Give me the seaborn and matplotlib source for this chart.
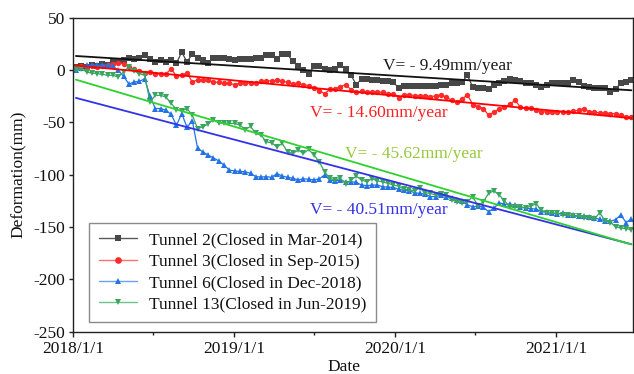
import numpy as np
import pandas as pd
import matplotlib
matplotlib.use("Agg")
import matplotlib.pyplot as plt
import matplotlib.dates as mdates
from matplotlib.lines import Line2D
from matplotlib.ticker import FuncFormatter
import seaborn as sns

# InSAR acquisitions, one every 12 days
dates = pd.date_range("2018-01-07", periods=106, freq="12D")

tunnel2 = [3, 4, 3, 5, 4, 6, 5, 7.4, 8.1, 9.0,
           11.6, 10.7, 11.6, 13.8, 10.0, 7.4, 9.7, 7.4, 9.7, 6.5,
           17.0, 7.4, 15.4, 11.6, 9.7, 6.8, 11.6, 11.6, 11.6, 10.7,
           9.1, 10.7, 10.7, 10.7, 11.2, 11.6, 13.8, 13.8, 10.7, 15.4,
           14.8, 8.0, 3.3, -0.5, -4.3, 3.5, 3.6, 0.5, -0.5, 1.1,
           4.3, 0.5, -5.2, -14.1, -8.4, -9.0, -9.5, -10.0, -10.5, -11.0,
           -12.0, -17.0, -15.4, -15.0, -15.4, -15.0, -15.4, -15.0, -15.0, -14.8,
           -14.5, -13.0, -12.5, -11.6, -5.2, -16.3, -17.0, -17.0, -18.6, -14.1,
           -13.0, -11.0, -9.0, -10.0, -11.0, -12.4, -12.5, -14.1, -16.3, -14.0,
           -13.0, -13.0, -13.0, -12.4, -10.0, -12.0, -15.5, -16.3, -17.0, -17.0,
           -17.5, -21.0, -17.9, -13.0, -11.6, -10.0]

tunnel3 = [3, 4, 3, 4, 3, 4, 5, 5.9, 6.5, 5.9,
           2.7, 0.5, -1.0, -3.0, -2.0, -3.6, -4.0, -4.0, 1.1, -6.0,
           -5.0, -3.0, -11.6, -9.5, -9.3, -10.0, -11.6, -12.0, -12.5, -13.0,
           -14.0, -13.0, -12.5, -13.0, -13.0, -11.0, -10.5, -10.5, -10.0, -11.0,
           -12.0, -13.1, -13.0, -14.1, -15.0, -17.3, -20.0, -22.7, -18.5, -17.9,
           -16.0, -14.1, -19.0, -21.1, -20.5, -21.1, -21.0, -21.1, -21.5, -22.7,
           -23.0, -26.8, -24.0, -23.6, -24.5, -25.0, -25.0, -25.5, -25.0, -23.6,
           -26.0, -29.0, -30.6, -28.0, -23.6, -33.1, -35.0, -36.9, -43.3, -40.2,
           -37.5, -35.4, -33.0, -29.0, -35.4, -36.5, -36.0, -38.6, -40.0, -40.0,
           -40.0, -40.0, -40.0, -40.0, -39.5, -38.6, -37.0, -40.0, -40.5, -41.0,
           -41.0, -41.7, -41.7, -43.0, -45.0, -45.0]

tunnel6 = [0.0, 2.0, 4.3, 4.3, 4.3, 4.3, 4.3, 3.5, -0.5, -6.0,
           -13.5, -11.6, -11.0, -8.4, -25.0, -36.9, -36.9, -38.6, -42.5, -53.0,
           -41.7, -55.0, -48.5, -75.0, -78.3, -81.4, -84.0, -87.0, -91.0, -95.7,
           -96.5, -97.0, -97.3, -98.8, -102.0, -102.3, -102.0, -102.6, -99.0, -101.4,
           -102.6, -103.5, -105.0, -104.0, -104.5, -105.0, -104.0, -100.4, -105.2, -105.9,
           -105.5, -106.8, -106.8, -107.5, -110.0, -110.5, -110.0, -110.0, -111.6, -112.0,
           -112.2, -114.0, -115.0, -115.4, -117.3, -118.0, -118.5, -121.0, -121.0, -119.5,
           -121.0, -122.6, -124.0, -125.0, -129.0, -130.6, -130.0, -131.2, -135.4, -132.1,
           -126.8, -128.5, -128.0, -129.5, -130.6, -132.0, -132.5, -133.0, -135.4, -136.0,
           -137.0, -137.6, -137.0, -138.5, -139.0, -139.5, -139.5, -140.5, -141.5, -142.6,
           -144.0, -144.5, -143.0, -138.5, -145.8, -142.0]

tunnel13 = [-0.5, 1.1, -2.0, -3.0, -3.6, -4.3, -5.2, -5.2, -6.8, -2.0,
            2.7, -1.1, -3.6, -5.2, -30.6, -24.3, -24.3, -25.9, -32.0, -37.9,
            -39.2, -36.9, -43.3, -56.0, -54.5, -51.5, -47.4, -50.6, -50.6, -51.0,
            -51.2, -52.8, -57.0, -54.0, -60.7, -62.4, -68.7, -69.7, -73.5, -70.3,
            -78.3, -79.8, -76.6, -79.8, -76.0, -81.4, -87.8, -97.3, -103.6, -105.2,
            -103.6, -109.0, -105.2, -101.5, -105.2, -106.8, -104.0, -106.0, -107.0, -108.3,
            -110.0, -111.0, -114.0, -114.5, -115.4, -113.0, -117.3, -118.0, -119.5, -118.5,
            -119.5, -124.2, -125.9, -126.8, -126.0, -121.0, -130.0, -126.0, -118.0, -115.4,
            -119.5, -124.9, -130.6, -131.0, -131.0, -132.0, -130.0, -128.0, -133.8, -136.3,
            -136.9, -136.5, -138.5, -139.0, -139.5, -140.0, -141.0, -141.7, -142.6, -136.3,
            -144.0, -145.8, -149.7, -151.0, -151.5, -152.8]

series_names = ["Tunnel 2(Closed in Mar-2014)", "Tunnel 3(Closed in Sep-2015)",
                "Tunnel 6(Closed in Dec-2018)", "Tunnel 13(Closed in Jun-2019)"]
series_values = [tunnel2, tunnel3, tunnel6, tunnel13]

# linear deformation rates (mm/year) and fitted values at 2018/1/1 (mm)
trend_rates = [-9.49, -14.60, -40.51, -45.62]
trend_offsets = [13.4, 4.5, -26.1, -8.6]
rate_labels = ["V= - 9.49mm/year", "V= - 14.60mm/year",
               "V= - 40.51mm/year", "V= - 45.62mm/year"]

# styling
series_colors = ["#474747", "#ff2b2b", "#2372e6", "#3aa55e"]
legend_line_colors = ["#5a5a5a", "#ff7070", "#66a3f2", "#6cc48c"]
series_markers = ["s", "o", "^", "v"]
trend_colors = ["#111111", "#ff0000", "#3232e6", "#2fd12f"]
label_colors = ["#1a1a1a", "#ff1f1f", "#3030ea", "#95c93a"]
label_anchor = [("2019-12-04", 0.2), ("2019-06-21", -45.0),
                ("2019-06-21", -137.9), ("2019-09-09", -84.5)]

sns.set_style("ticks")
plt.rcParams["font.family"] = ["Liberation Serif", "DejaVu Serif"]
plt.rcParams["axes.unicode_minus"] = False

df = pd.DataFrame({
    "Date": np.tile(dates.values, len(series_names)),
    "Deformation": np.concatenate(series_values),
    "Tunnel": np.repeat(series_names, len(dates)),
})

fig, ax = plt.subplots(figsize=(6.34, 3.74), dpi=100)
fig.subplots_adjust(left=0.1156, right=0.998, top=0.9532, bottom=0.1131)

sns.lineplot(data=df, x="Date", y="Deformation", hue="Tunnel", style="Tunnel",
             hue_order=series_names, style_order=series_names,
             palette=dict(zip(series_names, series_colors)),
             markers=dict(zip(series_names, series_markers)), dashes=False,
             markersize=3.9, markeredgewidth=0, linewidth=0.9,
             errorbar=None, legend=False, ax=ax)

# linear trend lines over the observation span
origin = pd.Timestamp("2018-01-01")
span = dates[[0, -1]]
years = (span - origin).days.values / 365.25
for rate, offset, color in zip(trend_rates, trend_offsets, trend_colors):
    sns.lineplot(x=span, y=offset + rate * years, color=color, linewidth=1.3,
                 errorbar=None, ax=ax, zorder=5)

for text, color, (day, val) in zip(rate_labels, label_colors, label_anchor):
    ax.text(mdates.date2num(pd.Timestamp(day)), val, text, color=color,
            fontsize=12.5, ha="left", va="baseline", zorder=6)

ax.set_xlim(origin, pd.Timestamp("2021-06-23"))
ax.set_ylim(-250, 50)
ax.set_yticks(np.arange(-250, 51, 50))
ax.xaxis.set_major_locator(mdates.YearLocator())
ax.xaxis.set_minor_locator(mdates.MonthLocator(bymonth=7))
ax.xaxis.set_major_formatter(FuncFormatter(
    lambda v, _: "{d.year}/{d.month}/{d.day}".format(d=mdates.num2date(v))))

ax.tick_params(axis="both", which="major", direction="out", length=3.6,
               width=1.0, labelsize=12.5, color="#222222", labelcolor="#111111")
ax.tick_params(axis="x", which="major", pad=3.0)
ax.tick_params(axis="y", which="major", pad=3.0, length=3.0)
ax.tick_params(axis="x", which="minor", direction="out", length=2.5,
               width=1.0, color="#222222")

for side in ["left", "right", "top", "bottom"]:
    ax.spines[side].set_visible(True)
    ax.spines[side].set_color("#222222")
    ax.spines[side].set_linewidth(1.0)

ax.set_xlabel("Date", fontsize=12.5, color="#111111")
ax.set_ylabel("Deformation(mm)", fontsize=12.5, color="#111111")
ax.xaxis.set_label_coords(0.484, -0.088)
ax.yaxis.set_label_coords(-0.083, 0.5)

handles = [Line2D([0], [0], color=lc, lw=1.0, marker=m, markersize=4.8,
                  markerfacecolor=c, markeredgewidth=0)
           for lc, m, c in zip(legend_line_colors, series_markers, series_colors)]
leg = ax.legend(handles, series_names, loc="lower left",
                bbox_to_anchor=(0.028, 0.031), borderaxespad=0,
                fontsize=12.5, frameon=True, fancybox=False, framealpha=1,
                edgecolor="#8a8a8a", borderpad=0.55, handlelength=2.2,
                handletextpad=0.7, labelspacing=0.3)
leg.get_frame().set_linewidth(1.0)
for t in leg.get_texts():
    t.set_color("#111111")

fig.savefig("out.png", dpi=100)
